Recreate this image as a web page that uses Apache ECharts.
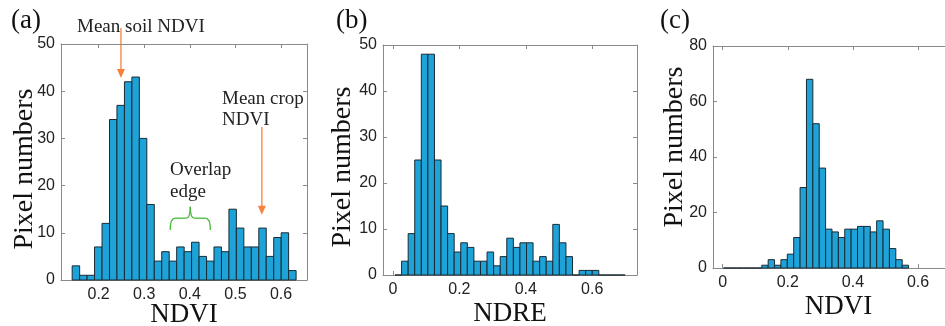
<!DOCTYPE html>
<html><head><meta charset="utf-8">
<script src="https://cdn.jsdelivr.net/npm/echarts@6/dist/echarts.min.js"></script>
<style>html,body{margin:0;padding:0;background:#fff}#c{width:945px;height:326px}</style>
</head><body><div id="c"></div>
<script>
// ---- Data ----
const edgesA = [0.1420,0.1584,0.1747,0.1911,0.2075,0.2239,0.2402,0.2566,0.2730,0.2893,0.3057,0.3221,0.3384,0.3548,0.3712,0.3876,0.4039,0.4203,0.4367,0.4530,0.4694,0.4858,0.5021,0.5185,0.5349,0.5513,0.5676,0.5840,0.6004,0.6167,0.6331];
const countsA = [3,1,1,7,12,34,37,42,43,30,16,4,6,4,7,6,8,5,4,7,6,15,11,7,7,11,5,9,10,2];
const edgesB = [0.0062,0.0260,0.0458,0.0656,0.0854,0.1052,0.1250,0.1448,0.1646,0.1844,0.2042,0.2240,0.2438,0.2636,0.2834,0.3032,0.3230,0.3428,0.3626,0.3824,0.4022,0.4220,0.4418,0.4616,0.4814,0.5012,0.5210,0.5408,0.5606,0.5804,0.6002,0.6200,0.6398,0.6596,0.6794,0.6992];
const countsB = [0,3,9,25,48,48,25,15,9,5,7,6,3,3,5,2,4,8,6,7,7,3,4,3,11,7,4,0,1,1,1,0,0,0,0];
const edgesC = [0.0024,0.0220,0.0416,0.0612,0.0808,0.1004,0.1200,0.1396,0.1592,0.1788,0.1984,0.2180,0.2376,0.2572,0.2768,0.2964,0.3160,0.3356,0.3552,0.3748,0.3944,0.4140,0.4336,0.4532,0.4728,0.4924,0.5120,0.5316,0.5512,0.5708];
const countsC = [0,0,0,0,0,0,1,3,1,3,5,11,29,68,52,36,14,13,11,14,14,15,15,13,17,14,7,3,1];

const xTicksA = [0.2,0.3,0.4,0.5,0.6];
const xTicksB = [0,0.2,0.4,0.6];
const xTicksC = [0,0.2,0.4,0.6];
const xNames = ['NDVI','NDRE','NDVI'];
const yName = 'Pixel numbers';
const panelLabels = ['(a)','(b)','(c)'];
// annotation anchors (data coords of panel a)
const soilArrow = {x:0.249, from:53.4, to:42.8, text:'Mean soil NDVI'};
const cropArrow = {x:0.558, from:32.4, to:13.8, text:['Mean crop','NDVI']};
const overlapBrace = {x0:0.357, x1:0.445, yEnd:10.6, yMid:13.1, yTip:15.5, text:['Overlap','edge']};

// ---- Styles ----
const FILL = '#1ea3d8', EDGE = '#1b2a33', AXIS = '#8a8a8a', TXT = '#222';
const SANS = 'Liberation Sans', SERIF = 'Liberation Serif';

const grids = [
  {left:61, right:638, top:44, bottom:46, outerBoundsMode:'none', containLabel:false},
  {left:383, right:308, top:45, bottom:51, outerBoundsMode:'none', containLabel:false},
  {left:713, right:-19, top:46, bottom:58, outerBoundsMode:'none', containLabel:false}
];
const xRanges = [[0.1175,0.657],[-0.03,0.735],[-0.0298,0.741]];
const yMax = [50,50,80], yInt = [10,10,20];
const xTicks = [xTicksA,xTicksB,xTicksC];
const nameGaps = [21,25,25];

function toData(edges,counts){return counts.map((c,i)=>[edges[i],edges[i+1],c]);}
const datasets = [toData(edgesA,countsA),toData(edgesB,countsB),toData(edgesC,countsC)];

const xAxis = [], yAxis = [], series = [];
for (let i=0;i<3;i++){
  const lineStyle = {color:AXIS,width:1};
  xAxis.push({type:'value',gridIndex:i,min:xRanges[i][0],max:xRanges[i][1],position:'bottom',
    axisLine:{show:true,onZero:false,lineStyle},
    axisTick:{show:true,inside:true,length:4,lineStyle,customValues:xTicks[i]},
    axisLabel:{color:TXT,fontFamily:SANS,fontSize:16,margin:7,customValues:xTicks[i],formatter:v=>String(v)},
    splitLine:{show:false},
    name:xNames[i],nameLocation:'middle',nameGap:nameGaps[i],nameMoveOverlap:false,
    nameTextStyle:{fontFamily:SERIF,fontSize:27,color:'#111'}});
  xAxis.push({type:'value',gridIndex:i,min:xRanges[i][0],max:xRanges[i][1],position:'top',
    axisLine:{show:true,onZero:false,lineStyle},
    axisTick:{show:true,inside:true,length:4,lineStyle,customValues:xTicks[i]},
    axisLabel:{show:false},splitLine:{show:false}});
  yAxis.push({type:'value',gridIndex:i,min:0,max:yMax[i],interval:yInt[i],position:'left',
    axisLine:{show:true,onZero:false,lineStyle},
    axisTick:{show:true,inside:true,length:4,lineStyle},
    axisLabel:{color:TXT,fontFamily:SANS,fontSize:16,margin:6},
    splitLine:{show:false}});
  yAxis.push({type:'value',gridIndex:i,min:0,max:yMax[i],interval:yInt[i],position:'right',
    axisLine:{show:true,onZero:false,lineStyle},
    axisTick:{show:true,inside:true,length:4,lineStyle},
    axisLabel:{show:false},splitLine:{show:false}});
  series.push({type:'custom',xAxisIndex:2*i,yAxisIndex:2*i,data:datasets[i],
    encode:{x:[0,1],y:2},
    renderItem:function(params,api){
      const p0 = api.coord([api.value(0),api.value(2)]);
      const p1 = api.coord([api.value(1),0]);
      return {type:'rect',shape:{x:p0[0],y:p0[1],width:p1[0]-p0[0],height:p1[1]-p0[1]},
        style:{fill:FILL,stroke:EDGE,lineWidth:1}};
    }});
}

const chart = echarts.init(document.getElementById('c'),null,{renderer:'canvas'});
chart.setOption({
  animation:false,
  backgroundColor:'#fff',
  grid:grids,
  xAxis, yAxis, series,
  title:[
    {text:panelLabels[0],left:6,top:2,textStyle:{fontFamily:SERIF,fontSize:27,fontWeight:'normal',color:'#111'}},
    {text:panelLabels[1],left:331,top:2,textStyle:{fontFamily:SERIF,fontSize:27,fontWeight:'normal',color:'#111'}},
    {text:panelLabels[2],left:655,top:2,textStyle:{fontFamily:SERIF,fontSize:27,fontWeight:'normal',color:'#111'}}
  ]
});

// ---- Annotations (placed via axis conversion) ----
function px(pt){return chart.convertToPixel({xAxisIndex:0,yAxisIndex:0},pt);}
const ORANGE = '#f7813a', GREEN = '#47b83a';
const g = [];
function arrow(a){
  const s = px([a.x,a.from]), e = px([a.x,a.to]);
  g.push({type:'line',shape:{x1:s[0],y1:s[1],x2:e[0],y2:e[1]-8},style:{stroke:ORANGE,lineWidth:1.3}});
  g.push({type:'polygon',shape:{points:[[e[0]-4,e[1]-9],[e[0]+4,e[1]-9],[e[0],e[1]]]},style:{fill:ORANGE}});
}
arrow(soilArrow); arrow(cropArrow);
{
  const b = overlapBrace;
  const L = px([b.x0,b.yEnd]), R = px([b.x1,b.yEnd]), M = px([(b.x0+b.x1)/2,b.yMid]), T = px([(b.x0+b.x1)/2,b.yTip]);
  const ym = M[1], xm = M[0];
  const st = {stroke:GREEN,fill:null,lineWidth:1.3};
  g.push({type:'bezierCurve',shape:{x1:L[0],y1:L[1],cpx1:L[0],cpy1:ym,x2:L[0]+5,y2:ym},style:st});
  g.push({type:'line',shape:{x1:L[0]+5,y1:ym,x2:xm-4,y2:ym},style:st});
  g.push({type:'bezierCurve',shape:{x1:xm-4,y1:ym,cpx1:xm,cpy1:ym,x2:xm,y2:T[1]},style:st});
  g.push({type:'bezierCurve',shape:{x1:xm,y1:T[1],cpx1:xm,cpy1:ym,x2:xm+4,y2:ym},style:st});
  g.push({type:'line',shape:{x1:xm+4,y1:ym,x2:R[0]-5,y2:ym},style:st});
  g.push({type:'bezierCurve',shape:{x1:R[0]-5,y1:ym,cpx1:R[0],cpy1:ym,x2:R[0],y2:R[1]},style:st});
}
const annFont = {fontFamily:SERIF,fontSize:19,fill:'#222'};
g.push({type:'text',x:77,y:27,style:Object.assign({text:soilArrow.text,verticalAlign:'middle'},annFont)});
g.push({type:'text',x:222,y:99,style:Object.assign({text:cropArrow.text[0],verticalAlign:'middle'},annFont)});
g.push({type:'text',x:222,y:120,style:Object.assign({text:cropArrow.text[1],verticalAlign:'middle'},annFont)});
g.push({type:'text',x:170,y:170,style:Object.assign({text:overlapBrace.text[0],verticalAlign:'middle'},annFont)});
g.push({type:'text',x:170,y:192,style:Object.assign({text:overlapBrace.text[1],verticalAlign:'middle'},annFont)});
// y-axis names
const yNamePos = [[25,169],[343,167],[675,147]];
yNamePos.forEach(p=>{
  g.push({type:'text',x:p[0],y:p[1],rotation:Math.PI/2,
    style:{text:yName,fontFamily:SERIF,fontSize:28,fill:'#111',align:'center',verticalAlign:'middle'}});
});
chart.setOption({graphic:g});
</script></body></html>
